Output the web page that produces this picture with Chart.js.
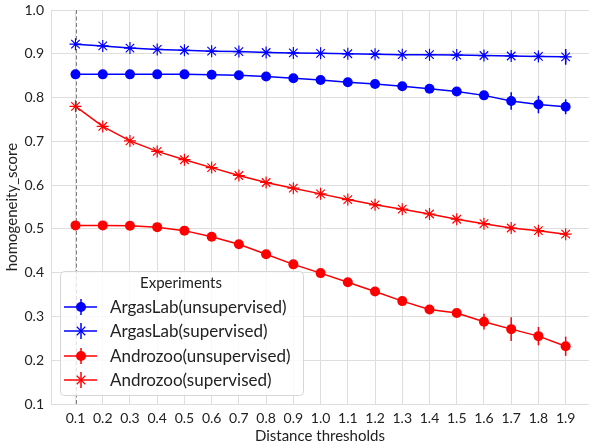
<!DOCTYPE html>
<html>
<head>
<meta charset="utf-8">
<script src="https://cdn.jsdelivr.net/npm/chart.js@4"></script>
<style>
  html, body { margin: 0; padding: 0; background: #fff; overflow: hidden; }
  #wrap { width: 596px; height: 448px; position: relative; }
</style>
</head>
<body>
<div id="wrap"><canvas id="myChart"></canvas></div>
<script>
const thresholds = [0.1, 0.2, 0.3, 0.4, 0.5, 0.6, 0.7, 0.8, 0.9, 1.0, 1.1, 1.2, 1.3, 1.4, 1.5, 1.6, 1.7, 1.8, 1.9];
const yTicks = [0.1, 0.2, 0.3, 0.4, 0.5, 0.6, 0.7, 0.8, 0.9, 1.0];

const argasUnsup = [0.853, 0.853, 0.853, 0.853, 0.853, 0.852, 0.851, 0.848, 0.844, 0.840, 0.835, 0.831, 0.826, 0.820, 0.814, 0.805, 0.792, 0.784, 0.779];
const argasSup = [0.922, 0.918, 0.913, 0.910, 0.908, 0.906, 0.905, 0.903, 0.902, 0.901, 0.900, 0.899, 0.898, 0.898, 0.897, 0.896, 0.895, 0.894, 0.893];
const androUnsup = [0.508, 0.508, 0.507, 0.504, 0.496, 0.482, 0.465, 0.442, 0.419, 0.399, 0.378, 0.357, 0.335, 0.316, 0.308, 0.288, 0.271, 0.255, 0.232];
const androSup = [0.780, 0.734, 0.701, 0.677, 0.658, 0.640, 0.622, 0.606, 0.593, 0.580, 0.567, 0.555, 0.545, 0.534, 0.522, 0.512, 0.502, 0.496, 0.488];

// error bar half-lengths
const argasUnsupErr = [0, 0, 0, 0, 0, 0, 0.002, 0.003, 0.003, 0.003, 0.003, 0.004, 0.004, 0.005, 0.006, 0.008, 0.02, 0.02, 0.017];
const argasSupErr = [0.002, 0.002, 0.002, 0.002, 0.002, 0.002, 0.002, 0.002, 0.002, 0.003, 0.003, 0.003, 0.003, 0.004, 0.004, 0.005, 0.006, 0.008, 0.018];
const androUnsupErr = [0, 0, 0, 0, 0.002, 0.003, 0.003, 0.004, 0.004, 0.004, 0.005, 0.005, 0.005, 0.006, 0.006, 0.018, 0.027, 0.021, 0.022];
const androSupErr = [0.002, 0.003, 0.003, 0.003, 0.003, 0.003, 0.003, 0.003, 0.003, 0.003, 0.003, 0.003, 0.004, 0.004, 0.004, 0.005, 0.005, 0.006, 0.006];

const FONT = 'Lato, "Noto Sans", sans-serif';
const BLUE = '#0000ff';
const RED = '#ff0000';
const GRID = '#dedede';
const TEXT = '#222222';

const pts = vals => vals.map((v, i) => ({ x: thresholds[i], y: v }));

const series = [
  { label: 'ArgasLab(unsupervised)', data: argasUnsup, errors: argasUnsupErr, color: BLUE, style: 'circle' },
  { label: 'ArgasLab(supervised)', data: argasSup, errors: argasSupErr, color: BLUE, style: 'star' },
  { label: 'Androzoo(unsupervised)', data: androUnsup, errors: androUnsupErr, color: RED, style: 'circle' },
  { label: 'Androzoo(supervised)', data: androSup, errors: androSupErr, color: RED, style: 'star' }
];

// dashed line at the first threshold
const refLine = {
  id: 'refLine',
  beforeDatasetsDraw(chart) {
    const { ctx, chartArea, scales: { x } } = chart;
    const px = Math.round(x.getPixelForValue(thresholds[0])) + 0.5;
    ctx.save();
    ctx.strokeStyle = '#7f7f7f';
    ctx.lineWidth = 1;
    ctx.setLineDash([4, 2.5]);
    ctx.beginPath();
    ctx.moveTo(px, chartArea.top);
    ctx.lineTo(px, chartArea.bottom);
    ctx.stroke();
    ctx.restore();
  }
};

const errorBars = {
  id: 'errorBars',
  afterDatasetsDraw(chart) {
    const { ctx, scales: { x, y } } = chart;
    ctx.save();
    ctx.lineWidth = 1.5;
    chart.data.datasets.forEach(ds => {
      ctx.strokeStyle = ds.borderColor;
      ds.data.forEach((p, j) => {
        const e = ds.errors[j];
        if (!e) return;
        const px = x.getPixelForValue(p.x);
        ctx.beginPath();
        ctx.moveTo(px, y.getPixelForValue(p.y - e));
        ctx.lineTo(px, y.getPixelForValue(p.y + e));
        ctx.stroke();
      });
    });
    ctx.restore();
  }
};

function drawMarker(ctx, style, cx, cy, color) {
  ctx.save();
  ctx.strokeStyle = color;
  ctx.fillStyle = color;
  if (style === 'circle') {
    ctx.beginPath();
    ctx.arc(cx, cy, 5, 0, Math.PI * 2);
    ctx.fill();
  } else {
    const r = 6, d = r * Math.SQRT1_2;
    ctx.lineWidth = 1.2;
    ctx.beginPath();
    ctx.moveTo(cx - d, cy - d); ctx.lineTo(cx + d, cy + d);
    ctx.moveTo(cx - d, cy + d); ctx.lineTo(cx + d, cy - d);
    ctx.stroke();
  }
  ctx.restore();
}

const legendBox = {
  id: 'legendBox',
  afterDraw(chart) {
    const ctx = chart.ctx;
    ctx.save();
    ctx.beginPath();
    ctx.roundRect(60.5, 271.5, 243, 124, 4);
    ctx.fillStyle = 'rgba(255,255,255,0.8)';
    ctx.fill();
    ctx.strokeStyle = '#d6d6d6';
    ctx.lineWidth = 1;
    ctx.stroke();

    ctx.fillStyle = TEXT;
    ctx.textBaseline = 'middle';
    ctx.textAlign = 'center';
    ctx.font = '15px ' + FONT;
    ctx.fillText('Experiments', 181, 283);

    const rows = [307, 331, 356, 380];
    ctx.textAlign = 'left';
    ctx.font = '17px ' + FONT;
    series.forEach((s, i) => {
      const cy = rows[i];
      ctx.strokeStyle = s.color;
      ctx.lineWidth = 1.5;
      ctx.beginPath();
      ctx.moveTo(64, cy); ctx.lineTo(97, cy);
      ctx.moveTo(81, cy - 8); ctx.lineTo(81, cy + 8);
      ctx.stroke();
      drawMarker(ctx, s.style, 81, cy, s.color);
      ctx.fillStyle = TEXT;
      ctx.fillText(s.label, 110, cy + 1);
    });
    ctx.restore();
  }
};

new Chart(document.getElementById('myChart'), {
  type: 'line',
  data: {
    datasets: series.map(s => ({
      label: s.label,
      data: pts(s.data),
      errors: s.errors,
      borderColor: s.color,
      backgroundColor: s.color,
      borderWidth: 1.5,
      pointStyle: s.style,
      pointRadius: s.style === 'circle' ? 5 : 6,
      pointBorderWidth: s.style === 'circle' ? 0 : 1.2,
      pointBackgroundColor: s.color,
      pointBorderColor: s.color,
      tension: 0
    }))
  },
  options: {
    responsive: true,
    maintainAspectRatio: false,
    animation: false,
    layout: { padding: { top: 10, right: 0, left: 0, bottom: 0 } },
    plugins: { legend: { display: false }, tooltip: { enabled: false } },
    scales: {
      x: {
        type: 'linear',
        min: 0.01,
        max: 1.985,
        afterBuildTicks: scale => { scale.ticks = thresholds.map(v => ({ value: v })); },
        afterFit: scale => { scale.height = 44; scale.paddingLeft = 0; scale.paddingRight = 0; },
        grid: { color: GRID, lineWidth: 1, drawTicks: false },
        border: { color: GRID },
        ticks: {
          padding: 6,
          color: TEXT,
          font: { family: FONT, size: 14 },
          maxRotation: 0,
          autoSkip: false,
          callback: v => v.toFixed(1)
        },
        title: {
          display: true,
          text: 'Distance thresholds',
          color: TEXT,
          font: { family: FONT, size: 15 },
          padding: { top: 0, bottom: 3 }
        }
      },
      y: {
        min: 0.1,
        max: 1.0,
        afterBuildTicks: scale => { scale.ticks = yTicks.map(v => ({ value: v })); },
        afterFit: scale => { scale.width = 51; scale.paddingTop = 0; scale.paddingBottom = 0; },
        grid: { color: GRID, lineWidth: 1, drawTicks: false },
        border: { color: GRID },
        ticks: {
          padding: 7,
          color: TEXT,
          font: { family: FONT, size: 14 },
          callback: v => v.toFixed(1)
        },
        title: {
          display: true,
          text: 'homogeneity_score',
          color: TEXT,
          font: { family: FONT, size: 15 },
          padding: { top: 3, bottom: 0 }
        }
      }
    }
  },
  plugins: [refLine, errorBars, legendBox]
});
</script>
</body>
</html>
